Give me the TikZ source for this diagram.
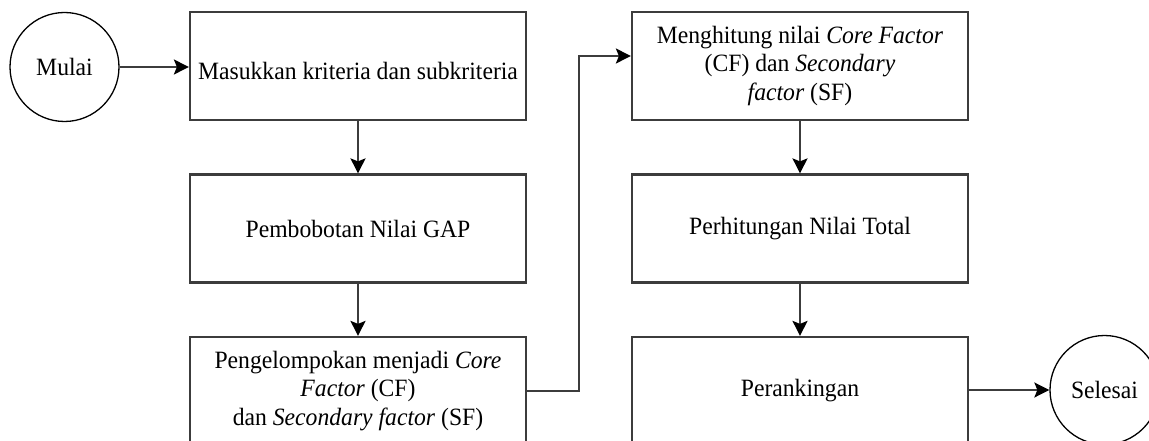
\documentclass[tikz,border=0pt]{standalone}
\usepackage{fontspec}
\setmainfont{Liberation Serif}[FakeStretch=0.95]
\usetikzlibrary{arrows.meta}
\definecolor{edgegray}{RGB}{60,60,60}
\tikzset{
  x=1pt, y=1pt,
  txt/.style={font=\fontsize{24.9}{28.5}\selectfont, align=center, text=black, inner sep=0pt},
  box/.style={draw=edgegray, line width=2.2pt, minimum width=336pt, minimum height=108pt, inner sep=0pt, txt},
  term/.style={draw=black, line width=1.3pt, circle, minimum size=109pt, inner sep=0pt, txt},
  arr/.style={draw=edgegray, line width=1.9pt, -{Stealth[length=15pt,width=15pt,inset=3pt,color=black]}},
}
\begin{document}
\begin{tikzpicture}
\path[use as bounding box, clip] (0,0) rectangle (1149,-441);
\fill[white] (0,0) rectangle (1149,-441);

\node[term] (m) at (64.5,-67) {Mulai};
\node[box] (b1) at (358,-66) {};
\node[txt] (b1t) at ([yshift=-5pt]b1.center) {Masukkan kriteria dan subkriteria};
\node[box] (b2) at (358,-228.5) {Pembobotan Nilai GAP};
\node[box] (b3) at (358,-391) {Pengelompokan menjadi \textit{Core}\\ \textit{Factor} (CF)\\ dan \textit{Secondary factor} (SF)};

\node[box] (c1) at (800,-66) {Menghitung nilai \textit{Core Factor}\\ (CF) dan \textit{Secondary}\\ \textit{factor} (SF)};
\node[box] (c2) at (800,-228.5) {Perhitungan Nilai Total};
\node[box] (c3) at (800,-391) {Perankingan};
\node[term] (s) at (1104.5,-390) {Selesai};

\coordinate (j) at (579,-56);

\draw[arr] (m.east) -- (m.east -| b1.west);
\draw[arr] (b1.south) -- (b2.north);
\draw[arr] (b2.south) -- (b3.north);
\draw[arr] (b3.east) -| (j) -- (j -| c1.west);
\draw[arr] (c1.south) -- (c2.north);
\draw[arr] (c2.south) -- (c3.north);
\draw[arr] (c3.east |- s.west) -- (s.west);
\end{tikzpicture}
\end{document}
